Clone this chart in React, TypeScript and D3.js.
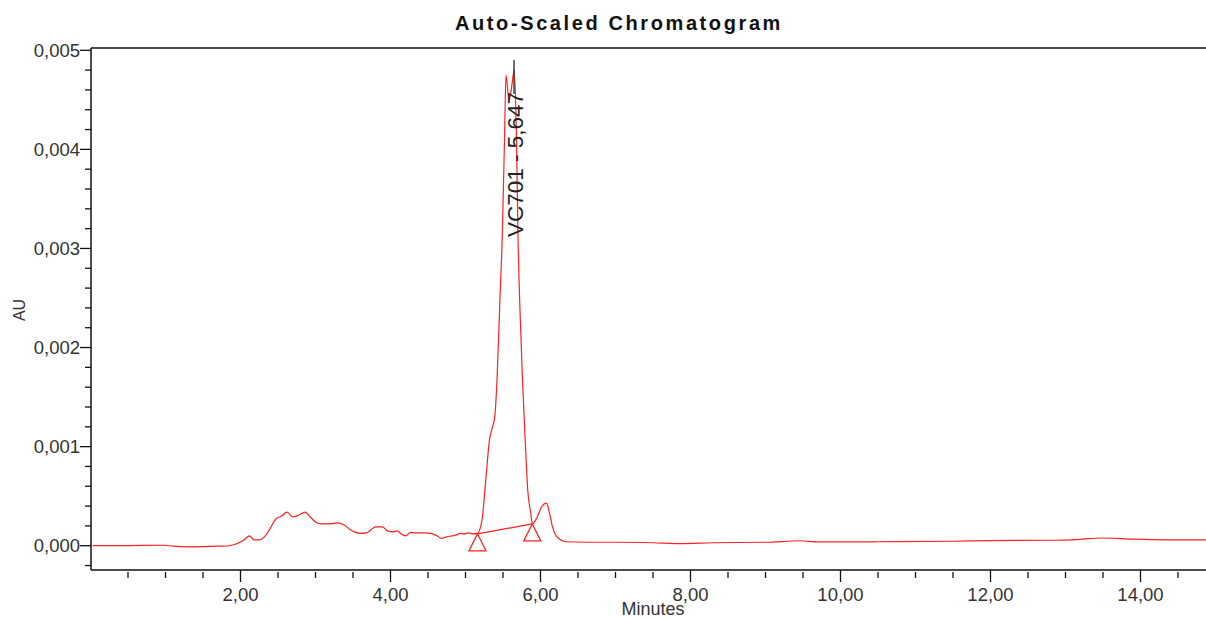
import React from "react";
import * as d3 from "d3";

const times: number[] = [
  0.03, 0.5, 1.0, 1.1, 1.3, 1.5, 1.7, 1.85, 1.95, 2.05, 2.12, 2.18, 2.25, 2.32, 2.4, 2.47, 2.55, 2.62, 2.7, 2.78,
  2.86, 2.93, 3.0, 3.07, 3.18, 3.3, 3.38, 3.45, 3.52, 3.6, 3.68, 3.74, 3.8, 3.89, 3.96, 4.03, 4.09, 4.14, 4.2,
  4.27, 4.33, 4.45, 4.56, 4.62, 4.68, 4.75, 4.82, 4.88, 4.93, 4.98, 5.04, 5.1, 5.16, 5.22, 5.27, 5.32, 5.36,
  5.39, 5.42, 5.46, 5.49, 5.52, 5.54, 5.58, 5.61, 5.65, 5.68, 5.7, 5.73, 5.76, 5.8, 5.83, 5.87, 5.89, 5.95,
  6.02, 6.08, 6.12, 6.16, 6.2, 6.24, 6.33, 6.6, 7.0, 7.5, 7.85, 8.3, 9.0, 9.47, 9.7, 10.5, 11.5, 12.0, 12.8,
  13.2, 13.47, 13.8, 14.3, 14.87,
];

const absorbance: number[] = [
  0, 0.000002, 0.000005, -0.000005, -0.000012, -0.00001, -0.000005, 0.0, 0.00002, 0.00006, 0.0001, 0.00006,
  0.00006, 0.00009, 0.00018, 0.00027, 0.0003, 0.00034, 0.00029, 0.00031, 0.00034, 0.00029, 0.00024, 0.00022,
  0.00022, 0.00023, 0.00021, 0.00017, 0.00014, 0.000125, 0.00013, 0.00016, 0.00019, 0.00019, 0.00015, 0.00014,
  0.00015, 0.00012, 0.0001, 0.000135, 0.00013, 0.00013, 0.00012, 0.0001, 0.000075, 0.00009, 0.0001, 0.00011,
  0.000125, 0.00012, 0.00013, 0.00012, 0.000125, 0.00026, 0.00066, 0.00107, 0.0012, 0.0013, 0.00167, 0.0025,
  0.00312, 0.0041, 0.00475, 0.0045, 0.0046, 0.0048, 0.0041, 0.00312, 0.0023, 0.00167, 0.001, 0.00056, 0.00033,
  0.00022, 0.00028, 0.0004, 0.00043, 0.00033, 0.00019, 0.00011, 0.000075, 0.00004, 0.000035, 0.000035, 0.00003,
  0.000022, 0.00003, 0.000035, 0.00005, 0.000038, 0.00004, 0.000045, 0.000052, 0.000055, 0.000065, 0.000078,
  0.00007, 0.00006, 0.00006,
];

// Integration baseline (start / end markers)
const baselineTimes: number[] = [5.16, 5.89];
const baselineValues: number[] = [0.00012, 0.00022];

const peakName = "VC701";
const peakRT = 5.647;

const xMajorTicks: number[] = [2, 4, 6, 8, 10, 12, 14];
const xMinorTicks: number[] = [0.5, 1, 1.5, 2.5, 3, 3.5, 4.5, 5, 5.5, 6.5, 7, 7.5, 8.5, 9, 9.5, 10.5, 11, 11.5, 12.5, 13, 13.5, 14.5];
const yMajorTicks: number[] = [0, 0.001, 0.002, 0.003, 0.004, 0.005];
const yMinorTicks: number[] = [-0.0002, 0.0002, 0.0004, 0.0006, 0.0008, 0.0012, 0.0014, 0.0016, 0.0018, 0.0022, 0.0024, 0.0026, 0.0028, 0.0032, 0.0034, 0.0036, 0.0038, 0.0042, 0.0044, 0.0046, 0.0048];

const W = 1206;
const H = 619;
const FONT = "'Liberation Sans', Arial, Helvetica, sans-serif";

export default function App() {
  const x = d3.scaleLinear().domain([0, 14.87]).range([90.5, 1205.75]);
  const y = d3.scaleLinear().domain([-0.000245, 0.00502]).range([570, 48.3]);
  const left = 91;
  const bottom = 570;
  const right = W;
  const top = 48;

  const pts: [number, number][] = times.map((t, i) => [t, absorbance[i]]);
  const line = d3
    .line<[number, number]>()
    .x((d) => x(d[0]))
    .y((d) => y(d[1]))
    .curve(d3.curveMonotoneX);

  const fmt = (v: number, digits: number) => v.toFixed(digits).replace(".", ",");
  const tri = (cx: number, cy: number) => {
    const s = 17;
    return `M${cx},${cy} L${cx - s / 2},${cy + s} L${cx + s / 2},${cy + s} Z`;
  };

  const px = x(peakRT);

  return (
    <svg
      width={W}
      height={H}
      style={{ position: "absolute", left: 0, top: 0, background: "#fff" }}
      fontFamily={FONT}
    >
      <rect x={0} y={0} width={W} height={H} fill="#fff" />
      <text x={455} y={30} fontSize={20} fontWeight="bold" letterSpacing={2.6} fill="#111">
        Auto-Scaled Chromatogram
      </text>

      {/* axes frame */}
      <line x1={left} y1={top} x2={right} y2={top} stroke="#111" strokeWidth={1.5} />
      <line x1={left} y1={top} x2={left} y2={bottom} stroke="#111" strokeWidth={1.5} />
      <line x1={left} y1={bottom} x2={right} y2={bottom} stroke="#111" strokeWidth={1.5} />

      {yMajorTicks.map((v) => (
        <g key={"ym" + v}>
          <line x1={left - 11} x2={left} y1={y(v)} y2={y(v)} stroke="#111" strokeWidth={1.3} />
          <text x={left - 11} y={y(v) + 6.5} textAnchor="end" fontSize={18.5} fill="#333">
            {fmt(v, 3)}
          </text>
        </g>
      ))}
      {yMinorTicks.map((v) => (
        <line key={"yn" + v} x1={left - 6} x2={left} y1={y(v)} y2={y(v)} stroke="#111" strokeWidth={1.3} />
      ))}
      {xMajorTicks.map((t) => (
        <g key={"xm" + t}>
          <line x1={x(t)} x2={x(t)} y1={bottom} y2={bottom + 12} stroke="#111" strokeWidth={1.3} />
          <text x={x(t)} y={601} textAnchor="middle" fontSize={18.5} fill="#333">
            {fmt(t, 2)}
          </text>
        </g>
      ))}
      {xMinorTicks.map((t) => (
        <line key={"xn" + t} x1={x(t)} x2={x(t)} y1={bottom + 2} y2={bottom + 8} stroke="#111" strokeWidth={1.3} />
      ))}

      <text x={653} y={615} textAnchor="middle" fontSize={18} fill="#333">
        Minutes
      </text>
      <text transform="translate(25,310) rotate(-90)" textAnchor="middle" fontSize={16} fill="#333">
        AU
      </text>

      {/* trace */}
      <path d={line(pts) || ""} fill="none" stroke="#ff2020" strokeWidth={1.2} />

      {/* integration baseline */}
      <line
        x1={x(baselineTimes[0])}
        y1={y(baselineValues[0])}
        x2={x(baselineTimes[1])}
        y2={y(baselineValues[1])}
        stroke="#ff2020"
        strokeWidth={1.2}
      />
      {baselineTimes.map((t, i) => (
        <path key={"tri" + i} d={tri(x(t), y(baselineValues[i]))} fill="none" stroke="#ff2020" strokeWidth={1.3} />
      ))}

      {/* peak label */}
      <line x1={px} x2={px} y1={60} y2={94} stroke="#111" strokeWidth={1.2} />
      <text transform={`translate(${px + 8.5},92) rotate(-90)`} textAnchor="end" fontSize={22.5} fill="#222">
        {`${peakName} - ${fmt(peakRT, 3)}`}
      </text>
    </svg>
  );
}
